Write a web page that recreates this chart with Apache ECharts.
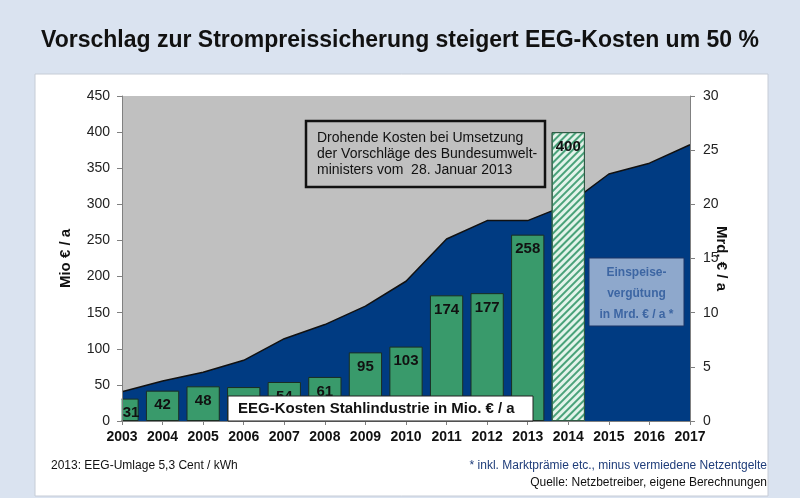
<!DOCTYPE html>
<html>
<head>
<meta charset="utf-8">
<script src="https://cdn.jsdelivr.net/npm/echarts@6/dist/echarts.min.js"></script>
<style>
  html, body { margin: 0; padding: 0; background: #dae3f0; }
  #chart { width: 800px; height: 498px; }
</style>
</head>
<body>
<div id="chart"></div>
<script>
// Jahre (Kategorien)
const years = ["2003", "2004", "2005", "2006", "2007", "2008", "2009", "2010",
  "2011", "2012", "2013", "2014", "2015", "2016", "2017"];

// EEG-Kosten Stahlindustrie in Mio. € / a (2014 = drohende Kosten)
const stahlKosten = [31, 42, 48, 47, 54, 61, 95, 103, 174, 177, 258, 400, null, null, null];

// Einspeisevergütung in Mrd. € / a
const einspeiseVerguetung = [2.7, 3.7, 4.5, 5.6, 7.6, 8.9, 10.6, 12.9, 16.8, 18.5, 18.5, 20.0, 22.8, 23.8, 25.5];

const fontFamily = "Liberation Sans, Arial, sans-serif";

const chart = echarts.init(document.getElementById("chart"));

const barData = stahlKosten.map((v, i) => {
  if (years[i] === "2014") {
    return {
      value: v,
      itemStyle: {
        color: "#e3f3ea",
        borderColor: "#2f5a44",
        decal: {
          symbol: "rect",
          symbolSize: 1,
          color: "#4aa27a",
          dashArrayX: [1, 0],
          dashArrayY: [1.5, 2.5],
          rotation: -Math.PI / 4,
        },
      },
    };
  }
  if (i === 0) {
    // erster Balken wird an der Achse abgeschnitten, Beschriftung in den sichtbaren Teil
    return { value: v, label: { offset: [9, 0] } };
  }
  return v;
});

const option = {
  backgroundColor: "#dae3f0",
  textStyle: { fontFamily: fontFamily },
  grid: {
    left: 122,
    right: 110,
    top: 96,
    bottom: 77,
    show: true,
    backgroundColor: "#c0c0c0",
    borderWidth: 0,
  },
  xAxis: {
    type: "category",
    data: years,
    boundaryGap: false,
    z: 20,
    axisLine: { lineStyle: { color: "#808080" } },
    axisTick: { show: true, length: 4, lineStyle: { color: "#808080" } },
    axisLabel: { color: "#111", fontSize: 14, fontWeight: "bold", margin: 9 },
  },
  yAxis: [
    {
      type: "value",
      min: 0,
      max: 450,
      interval: 50,
      z: 20,
      name: "Mio € / a",
      nameLocation: "middle",
      nameGap: 49,
      nameMoveOverlap: false,
      nameTextStyle: { fontSize: 15, fontWeight: "bold", color: "#111" },
      axisLine: { show: true, lineStyle: { color: "#808080" } },
      axisTick: { show: true, length: 5, lineStyle: { color: "#808080" } },
      axisLabel: { color: "#222", fontSize: 14, margin: 12 },
      splitLine: { show: false },
    },
    {
      type: "value",
      min: 0,
      max: 30,
      interval: 5,
      position: "right",
      z: 20,
      name: "Mrd. € / a",
      nameLocation: "middle",
      nameRotate: -90,
      nameGap: 24,
      nameMoveOverlap: false,
      nameTextStyle: { fontSize: 15, fontWeight: "bold", color: "#111" },
      axisLine: { show: true, lineStyle: { color: "#808080" } },
      axisTick: { show: true, length: 5, lineStyle: { color: "#808080" } },
      axisLabel: { color: "#222", fontSize: 14, margin: 13 },
      splitLine: { show: false },
    },
  ],
  series: [
    {
      name: "Einspeisevergütung",
      type: "line",
      yAxisIndex: 1,
      data: einspeiseVerguetung,
      showSymbol: false,
      symbol: "none",
      z: 1,
      lineStyle: { color: "#111", width: 1.5 },
      areaStyle: { color: "#003b82", opacity: 1 },
    },
    {
      name: "EEG-Kosten Stahlindustrie",
      type: "bar",
      yAxisIndex: 0,
      data: barData,
      barWidth: "82%",
      z: 3,
      itemStyle: { color: "#399a6b", borderColor: "#1a2e22", borderWidth: 1 },
      label: {
        show: true,
        position: "insideTop",
        distance: 7,
        color: "#111",
        fontSize: 15,
        fontWeight: "bold",
      },
    },
  ],
  graphic: [
    {
      type: "rect",
      z: -1,
      shape: { x: 35, y: 74, width: 733, height: 422 },
      style: { fill: "#ffffff", stroke: "#c6ccd6", lineWidth: 1 },
    },
    // Überstand des ersten Balkens links der Achse abdecken
    {
      type: "rect",
      z: 10,
      shape: { x: 95, y: 360, width: 26.5, height: 61.5 },
      style: { fill: "#ffffff" },
    },
    {
      type: "text",
      z: 100,
      left: "center",
      top: 29,
      style: {
        text: "Vorschlag zur Strompreissicherung steigert EEG-Kosten um 50 %",
        font: "bold 23px " + fontFamily,
        fill: "#111",
      },
    },
    // Kasten: drohende Kosten
    {
      type: "rect",
      z: 100,
      shape: { x: 306, y: 121, width: 239, height: 66 },
      style: { fill: "#c0c0c0", stroke: "#111", lineWidth: 2.5 },
    },
    {
      type: "text",
      z: 101,
      x: 317,
      y: 130,
      style: {
        text: "Drohende Kosten bei Umsetzung\nder Vorschläge des Bundesumwelt-\nministers vom  28. Januar 2013",
        font: "14px " + fontFamily,
        lineHeight: 16,
        fill: "#111",
      },
    },
    // Kasten: Einspeisevergütung
    {
      type: "rect",
      z: 100,
      shape: { x: 589, y: 258, width: 95, height: 68 },
      style: { fill: "#8ea8cc", stroke: "#1b3566", lineWidth: 1 },
    },
    {
      type: "text",
      z: 101,
      x: 636.5,
      y: 262,
      style: {
        text: "Einspeise-\nvergütung\nin Mrd. € / a *",
        font: "bold 12px " + fontFamily,
        lineHeight: 21,
        align: "center",
        fill: "#3d66a3",
      },
    },
    // Kasten: EEG-Kosten Stahlindustrie
    {
      type: "rect",
      z: 100,
      shape: { x: 228, y: 396, width: 305, height: 25 },
      style: { fill: "#ffffff", stroke: "#222", lineWidth: 1 },
    },
    {
      type: "text",
      z: 101,
      x: 238,
      y: 401,
      style: {
        text: "EEG-Kosten Stahlindustrie in Mio. € / a",
        font: "bold 15px " + fontFamily,
        fill: "#111",
      },
    },
    // Fußnoten
    {
      type: "text",
      z: 100,
      x: 51,
      y: 460,
      style: {
        text: "2013: EEG-Umlage 5,3 Cent / kWh",
        font: "12px " + fontFamily,
        fill: "#111",
      },
    },
    {
      type: "text",
      z: 100,
      x: 767,
      y: 460,
      style: {
        text: "* inkl. Marktprämie etc., minus vermiedene Netzentgelte",
        font: "12px " + fontFamily,
        align: "right",
        fill: "#1f3d7a",
      },
    },
    {
      type: "text",
      z: 100,
      x: 767,
      y: 477,
      style: {
        text: "Quelle: Netzbetreiber, eigene Berechnungen",
        font: "12px " + fontFamily,
        align: "right",
        fill: "#111",
      },
    },
  ],
};

chart.setOption(option);

window.addEventListener("resize", () => {
  chart.resize();
});
</script>
</body>
</html>
